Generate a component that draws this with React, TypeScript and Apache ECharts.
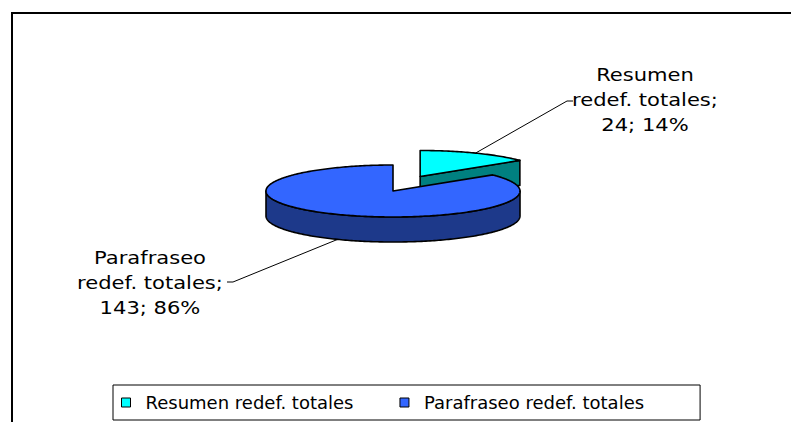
import React, { useEffect, useRef } from "react";
import * as echarts from "echarts";

// ---- data ----
const categories = ["Resumen redef. totales", "Parafraseo redef. totales"];
const values = [24, 143];

// ---- style ----
const topColors = ["#00FFFF", "#3366FF"];
const sideColors = ["#008080", "#1D398A"];
const FONT = '"DejaVu Sans", sans-serif';

const CX = 393;
const CY = 191;
const RX = 127;
const RY = 26;
const DEPTH = 25;
const EXPLODE = [
  [0.49, 0.62],
  [0, 0],
];
const LABEL_CENTER = [
  [645, 100.5],
  [150, 283],
];
const LABEL_TICK = [
  [[573, 101], [567, 101]],
  [[227, 282], [233, 282]],
];

const total = values.reduce((a, b) => a + b, 0);
const starts: number[] = [];
{
  let acc = 0;
  for (const v of values) {
    starts.push((acc / total) * Math.PI * 2);
    acc += v;
  }
}

function makeRender(i: number) {
  return (_params: any, api: any) => {
    const v = api.value(0) as number;
    const a0 = starts[i];
    const a1 = a0 + (v / total) * Math.PI * 2;
    const mid = (a0 + a1) / 2;
    const cx = CX + EXPLODE[i][0] * RX * Math.sin(mid);
    const cy = CY - EXPLODE[i][1] * RY * Math.cos(mid);
    const pt = (t: number, d = 0) => [cx + RX * Math.sin(t), cy - RY * Math.cos(t) + d];
    const arc = (s: number, e: number, d: number) => {
      const n = Math.max(2, Math.ceil((e - s) / (Math.PI / 180)));
      const out: number[][] = [];
      for (let k = 0; k <= n; k++) out.push(pt(s + ((e - s) * k) / n, d));
      return out;
    };
    const stroke = { stroke: "#000", lineWidth: 1.6, lineJoin: "round" };
    const children: any[] = [];
    // outer visible side
    const s = Math.max(a0, Math.PI / 2);
    const e = Math.min(a1, (Math.PI * 3) / 2);
    if (e > s) {
      const pts = arc(s, e, 0).concat(arc(s, e, DEPTH).reverse());
      children.push({ type: "polygon", shape: { points: pts }, style: { fill: sideColors[i], ...stroke } });
    }
    // cut faces
    if (Math.sin(a1) > 0.01) {
      const p = pt(a1);
      const pts = [[cx, cy], p, [p[0], p[1] + DEPTH], [cx, cy + DEPTH]];
      children.push({ type: "polygon", shape: { points: pts }, style: { fill: sideColors[i], ...stroke } });
    }
    if (Math.sin(a0) < -0.01) {
      const p = pt(a0);
      const pts = [[cx, cy], p, [p[0], p[1] + DEPTH], [cx, cy + DEPTH]];
      children.push({ type: "polygon", shape: { points: pts }, style: { fill: sideColors[i], ...stroke } });
    }
    // top face
    const topPts = [[cx, cy]].concat(arc(a0, a1, 0));
    children.push({ type: "polygon", shape: { points: topPts }, style: { fill: topColors[i], ...stroke } });

    // label
    const anchor = Math.cos(mid) < 0 ? pt(mid, DEPTH) : pt(mid, 0);
    children.push({
      type: "polyline",
      shape: { points: [LABEL_TICK[i][0], LABEL_TICK[i][1], anchor] },
      style: { stroke: "#000", lineWidth: 1, fill: null },
    });
    const pct = Math.round((v / total) * 100);
    const name = categories[i];
    const sp = name.indexOf(" ");
    const text = name.slice(0, sp) + "\n" + name.slice(sp + 1) + ";\n" + v + "; " + pct + "%";
    children.push({
      type: "text",
      x: LABEL_CENTER[i][0],
      y: LABEL_CENTER[i][1],
      scaleX: 1.17,
      style: {
        text,
        fill: "#000",
        font: `18px ${FONT}`,
        fontSize: 18,
        fontFamily: FONT,
        align: "center",
        verticalAlign: "middle",
        lineHeight: 25,
      },
    });
    return { type: "group", children };
  };
}

export default function App() {
  const ref = useRef<HTMLDivElement>(null);
  useEffect(() => {
    if (!ref.current) return;
    const chart = echarts.init(ref.current, undefined, { renderer: "svg" });
    chart.setOption({
      animation: false,
      backgroundColor: "#fff",
      graphic: [
        {
          type: "rect",
          silent: true,
          shape: { x: 12, y: 13, width: 800, height: 430 },
          style: { fill: null, stroke: "#000", lineWidth: 2 },
        },
      ],
      legend: {
        data: categories,
        left: 113,
        top: 385,
        orient: "horizontal",
        icon: "rect",
        itemWidth: 9,
        itemHeight: 9,
        itemGap: 46,
        padding: [8, 56, 8, 8],
        borderColor: "#000",
        borderWidth: 1,
        itemStyle: { borderColor: "#000", borderWidth: 1 },
        textStyle: {
          fontFamily: FONT,
          fontSize: 18,
          color: "#000",
          lineHeight: 19,
          padding: [0, 0, 0, 10],
        },
      },
      series: categories.map((name, i) => ({
        type: "custom",
        name,
        coordinateSystem: "none",
        silent: true,
        itemStyle: { color: topColors[i] },
        data: [{ name, value: [values[i]] }],
        renderItem: makeRender(i),
      })),
    });
    return () => chart.dispose();
  }, []);
  return (
    <div
      ref={ref}
      style={{ position: "absolute", left: 0, top: 0, width: 791, height: 422 }}
    />
  );
}
